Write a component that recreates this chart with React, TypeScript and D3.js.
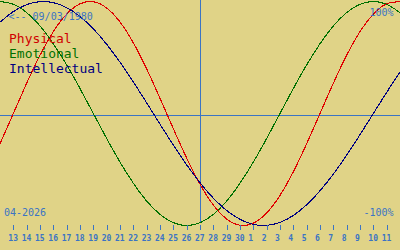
import React from "react";
import * as d3 from "d3";

// Day index 0..30 (one per day column)
const dayIndex: number[] = Array.from({ length: 31 }, (_, i) => i);

const physical: number[] = [
  -0.27, 0, 0.27, 0.52, 0.731, 0.888, 0.979, 0.998, 0.942, 0.817, 0.631,
  0.398, 0.136, -0.136, -0.398, -0.631, -0.817, -0.942, -0.998, -0.979,
  -0.888, -0.731, -0.52, -0.27, 0, 0.27, 0.52, 0.731, 0.888, 0.979, 0.998,
];
const emotional: number[] = [
  1, 0.975, 0.901, 0.782, 0.623, 0.434, 0.223, 0, -0.223, -0.434, -0.623,
  -0.782, -0.901, -0.975, -1, -0.975, -0.901, -0.782, -0.623, -0.434, -0.223,
  0, 0.223, 0.434, 0.623, 0.782, 0.901, 0.975, 1, 0.975, 0.901,
];
const intellectual: number[] = [
  0.815, 0.91, 0.972, 0.999, 0.99, 0.945, 0.866, 0.756, 0.618, 0.458, 0.282,
  0.095, -0.095, -0.282, -0.458, -0.618, -0.756, -0.866, -0.945, -0.99,
  -0.999, -0.972, -0.91, -0.815, -0.69, -0.541, -0.372, -0.189, 0, 0.189,
  0.372,
];

const tickDays: number[] = Array.from({ length: 29 }, (_, i) => i + 1);
const tickLabels: string[] = [
  "13", "14", "15", "16", "17", "18", "19", "20", "21", "22", "23", "24",
  "25", "26", "27", "28", "29", "30", "1", "2", "3", "4", "5", "6", "7", "8",
  "9", "10", "11",
];
const cursorDay = 15;

const seriesNames: string[] = ["Physical", "Emotional", "Intellectual"];
const seriesColors: string[] = ["#e00000", "#007000", "#000080"];
const legendColors: string[] = ["#d00000", "#007000", "#000080"];

const W = 400;
const H = 250;
const BG = "#e0d387";
const AXIS = "#3b74c4";
const FONT = "'DejaVu Sans Mono', 'Liberation Mono', monospace";

export default function App() {
  const x = d3.scaleLinear().domain([0, 30]).range([0, W]);
  const y = d3.scaleLinear().domain([-1, 1]).range([225.5, 1.5]);
  const line = d3
    .line<number>()
    .x((_, i) => x(dayIndex[i]))
    .y((d) => y(d))
    .curve(d3.curveNatural);
  const series = [physical, emotional, intellectual];
  const midY = 115.5;

  return (
    <svg
      width={W}
      height={H}
      style={{ position: "fixed", left: 0, top: 0, display: "block" }}
    >
      <rect x={0} y={0} width={W} height={H} fill={BG} />
      <line x1={0} x2={W} y1={midY} y2={midY} stroke={AXIS} strokeWidth={1} />
      <line
        x1={x(cursorDay) + 0.5}
        x2={x(cursorDay) + 0.5}
        y1={0}
        y2={223}
        stroke={AXIS}
        strokeWidth={1}
      />
      {series.map((s, k) => (
        <path
          key={k}
          d={line(s) || ""}
          fill="none"
          stroke={seriesColors[k]}
          strokeWidth={1.1}
          shapeRendering="crispEdges"
        />
      ))}
      {tickDays.map((d, i) => (
        <g key={d}>
          <line
            x1={Math.round(x(d)) + 0.5}
            x2={Math.round(x(d)) + 0.5}
            y1={225}
            y2={230}
            stroke={AXIS}
            strokeWidth={1}
          />
          <text
            x={x(d) - 5}
            y={240.5}
            fill={AXIS}
            fontFamily={FONT}
            fontSize={8}
            fontWeight="600"
          >
            {tickLabels[i]}
          </text>
        </g>
      ))}
      <text x={8.5} y={20} fill={AXIS} fontFamily={FONT} fontSize={10}>
        {"<-- 09/03/1980"}
      </text>
      <text
        x={393.5}
        y={15.5}
        fill={AXIS}
        fontFamily={FONT}
        fontSize={10}
        textAnchor="end"
      >
        100%
      </text>
      <text x={4} y={216} fill={AXIS} fontFamily={FONT} fontSize={10}>
        04-2026
      </text>
      <text
        x={393.5}
        y={216}
        fill={AXIS}
        fontFamily={FONT}
        fontSize={10}
        textAnchor="end"
      >
        -100%
      </text>
      {seriesNames.map((n, k) => (
        <text
          key={n}
          x={9}
          y={42.5 + k * 15}
          fill={legendColors[k]}
          fontFamily={FONT}
          fontSize={13}
        >
          {n}
        </text>
      ))}
    </svg>
  );
}
